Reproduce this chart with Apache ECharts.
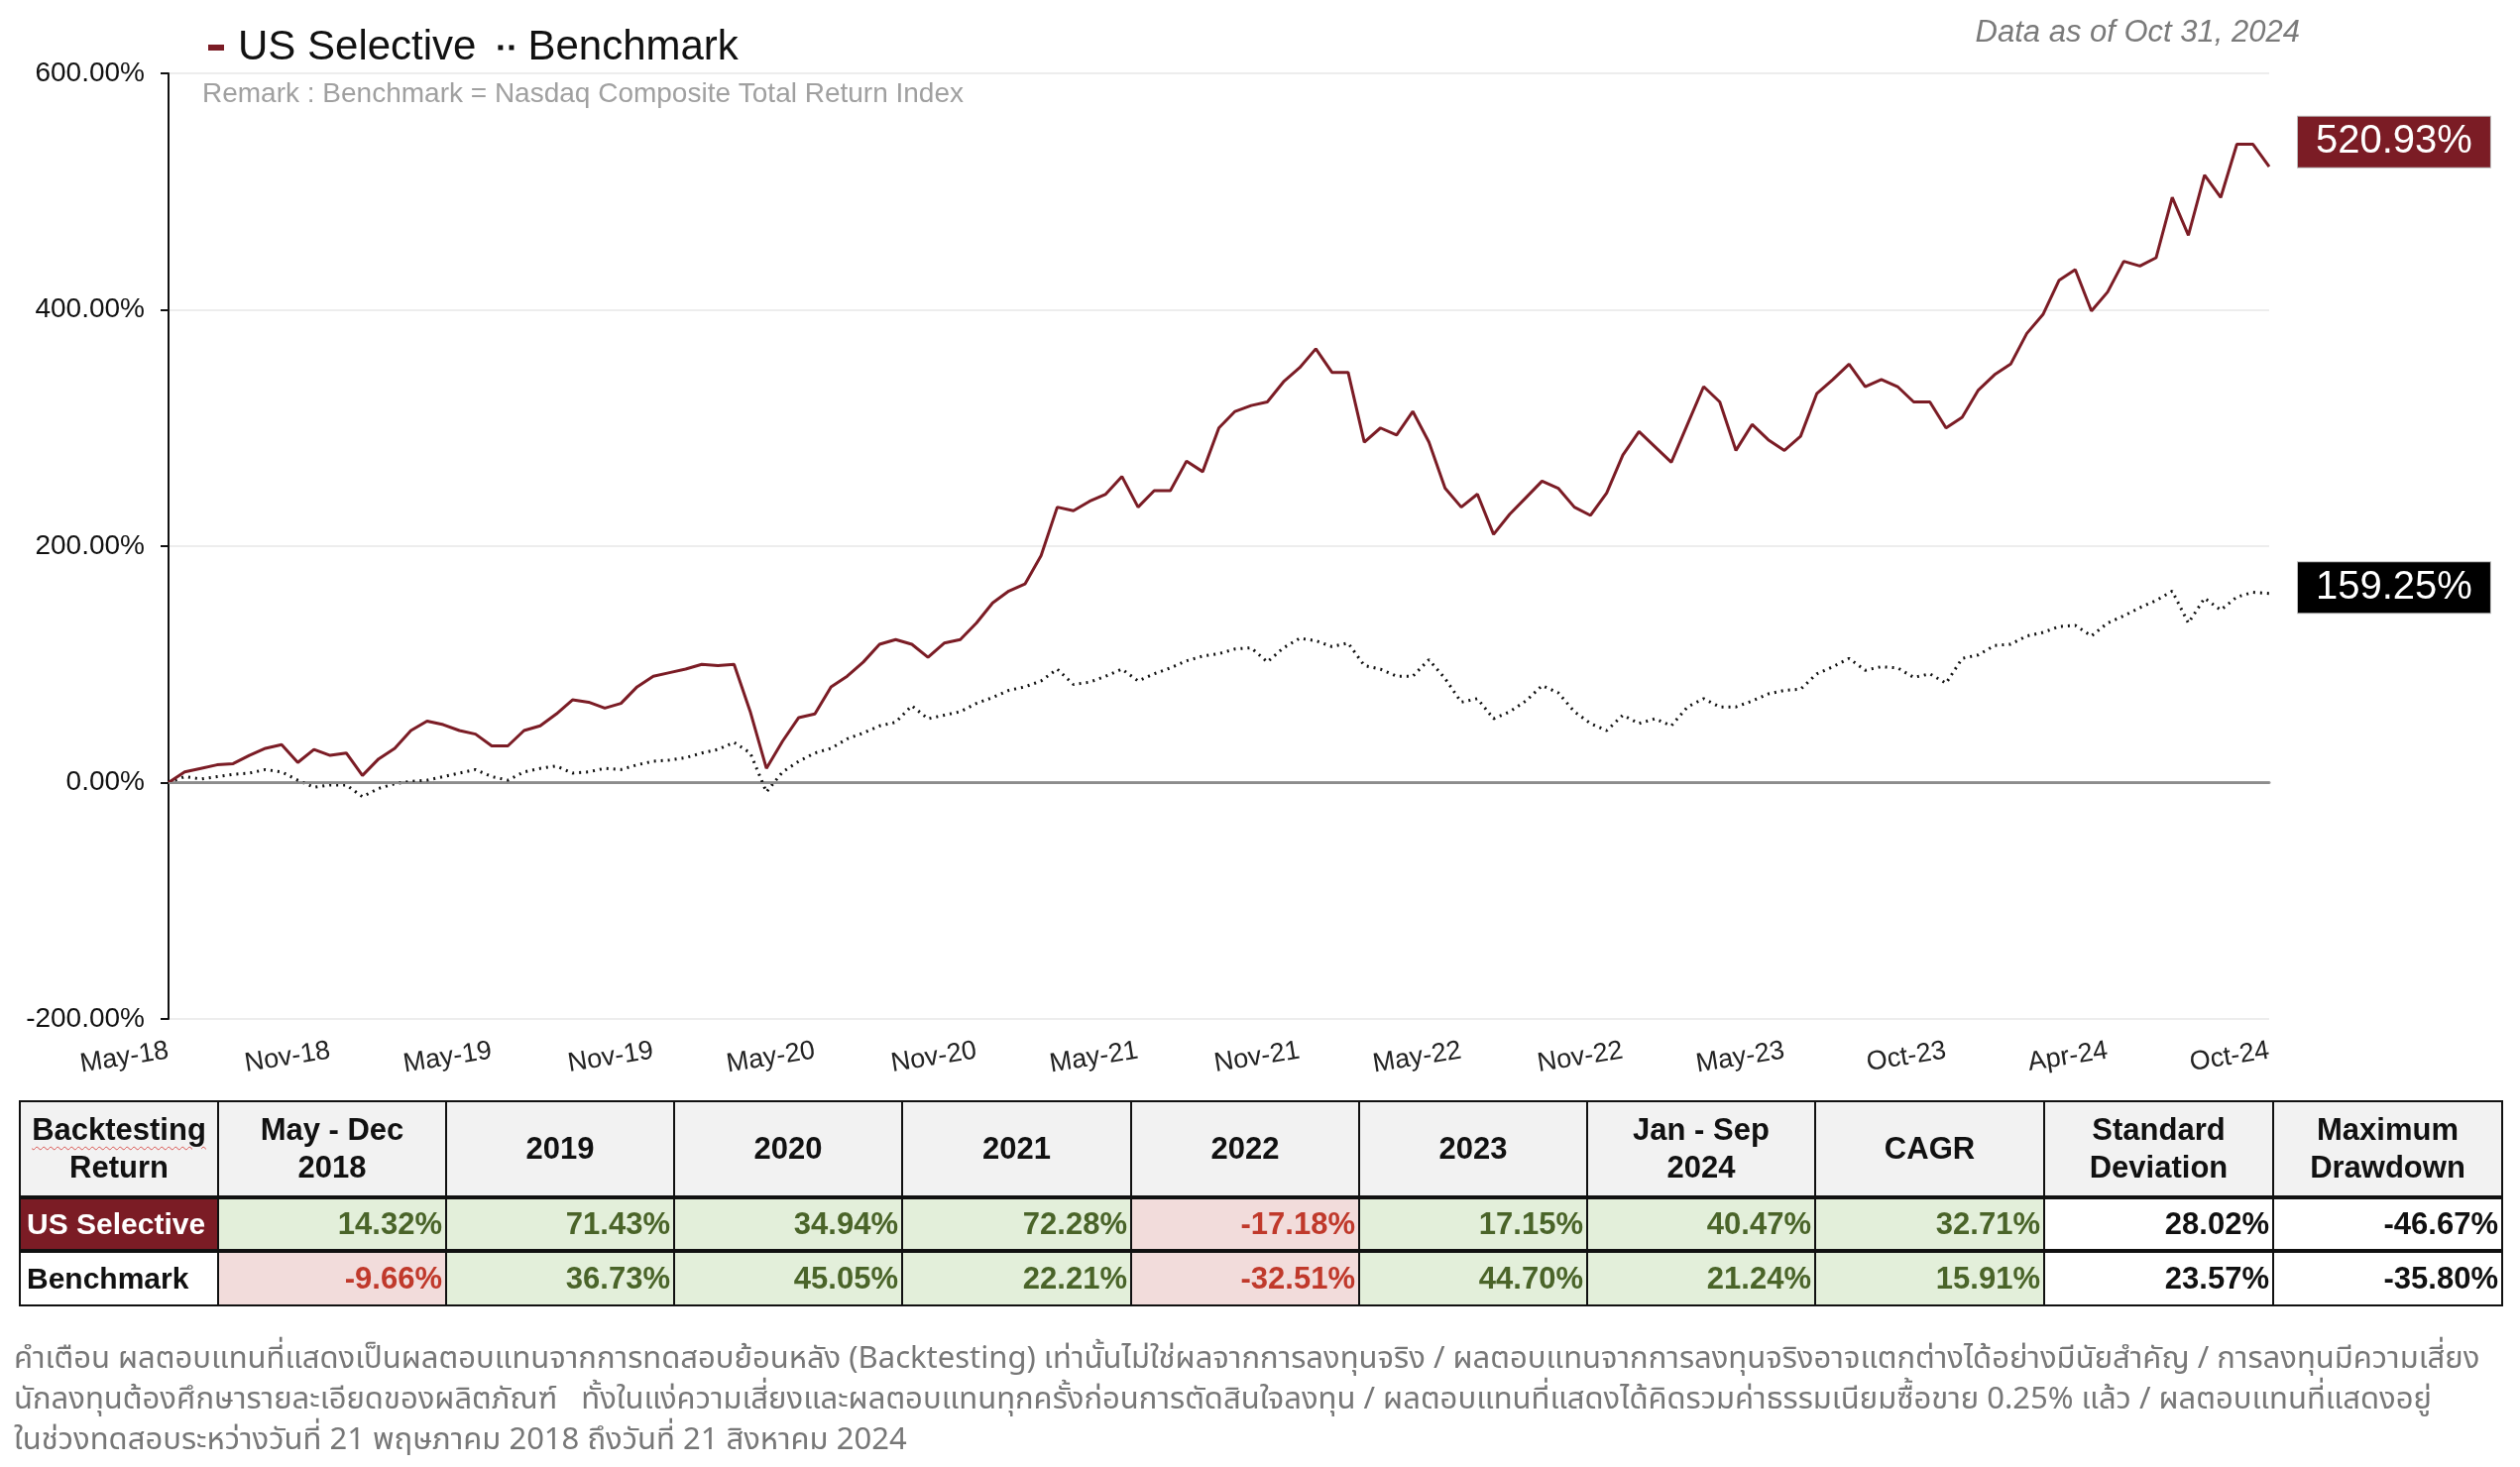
<!DOCTYPE html>
<html>
<head>
<meta charset="utf-8">
<script src="https://cdn.jsdelivr.net/npm/echarts/dist/echarts.min.js"></script>
<style>
  html, body { margin: 0; padding: 0; background: #fff; }
  body { width: 2542px; height: 1480px; position: relative; overflow: hidden; }
  #chart { position: absolute; left: 0; top: 0; width: 2542px; height: 1480px; }
  #tbl { position: absolute; left: 19px; top: 1110px; border-collapse: collapse; table-layout: fixed;
         font-family: 'Liberation Sans Narrow', 'Liberation Sans', Arial, sans-serif; font-weight: bold; font-size: 31px; }
  #tbl td { border: 2px solid #111; padding: 0 3px; overflow: hidden; white-space: nowrap; }
  #tbl tr.hdr td { background: #f2f2f2; text-align: center; line-height: 38px; height: 94px; white-space: normal; color: #111; }
  #tbl tr.r1 td { height: 50px; border-top: 4px solid #111; }
  #tbl tr.r2 td { height: 52px; border-top: 4px solid #111; }
  #tbl td.val { text-align: right; }
  #tbl td.pos { background: #e3efda; color: #4a6429; }
  #tbl td.neg { background: #f2dcdb; color: #c0392b; }
  #tbl td.plain { background: #fff; color: #111; }
  #tbl td.name1 { background: #7b1c25; color: #fff; text-align: left; padding-left: 6px; font-size: 30px; }
  #tbl td.name2 { background: #fff; color: #111; text-align: left; padding-left: 6px; font-size: 30px; }
  .wavy { text-decoration: underline wavy #d9534f; text-decoration-thickness: 1px; text-underline-offset: 6px; }
  #disc { position: absolute; left: 14px; top: 1350px; width: 2525px; color: #777; font-size: 31px; line-height: 41px;
          font-family: 'Noto Sans Thai', 'Noto Sans', 'DejaVu Sans', sans-serif; white-space: nowrap; }
</style>
</head>
<body>
<div id="chart"></div>
<table id="tbl"></table>
<div id="disc"></div>
<script>
// ---------------- data ----------------
const tickLabels = ['May-18','Nov-18','May-19','Nov-19','May-20','Nov-20','May-21','Nov-21','May-22','Nov-22','May-23','Oct-23','Apr-24','Oct-24'];

const usSelective = [
  0, 9, 12, 15, 16, 23, 29, 32, 17, 28,
  23, 25, 6, 20, 29, 44, 52, 49, 44, 41,
  31, 31, 44, 48, 58, 70, 68, 63, 67, 81,
  90, 93, 96, 100, 99, 100, 60, 12, 35, 55,
  58, 81, 90, 102, 117, 121, 117, 106, 118, 121,
  135, 152, 162, 168, 192, 233, 230, 238, 244, 259,
  233, 247, 247, 272, 263, 300, 314, 319, 322, 339,
  351, 367, 347, 347, 288, 300, 294, 314, 288, 249,
  233, 244, 210, 227, 241, 255, 249, 233, 226, 245,
  277, 297, 284, 271, 303, 335, 322, 281, 303, 290,
  281, 293, 329, 341, 354, 335, 341, 335, 322, 322,
  300, 309, 332, 345, 354, 380, 396, 425, 434, 399,
  415, 441, 437, 444, 495, 463, 514, 495, 540, 540,
  521
];

const benchmark = [
  0, 5, 3, 5, 7, 8, 11, 9, 2, -4,
  -2, -2, -12, -5, -1, 1, 2, 5, 8, 11,
  5, 2, 9, 12, 14, 8, 9, 12, 11, 15,
  18, 19, 21, 25, 28, 34, 25, -8, 9, 18,
  25, 29, 37, 42, 48, 51, 65, 54, 57, 60,
  67, 72, 78, 81, 86, 96, 83, 85, 90, 96,
  86, 92, 97, 103, 107, 109, 113, 114, 102, 114,
  122, 120, 115, 118, 99, 96, 90, 90, 104, 88,
  68, 71, 54, 60, 69, 82, 76, 60, 50, 44,
  57, 50, 54, 48, 64, 71, 64, 64, 69, 75,
  78, 79, 92, 98, 105, 95, 98, 97, 89, 92,
  84, 105, 108, 116, 117, 124, 127, 132, 133, 124,
  135, 141, 148, 154, 162, 135, 156, 146, 157, 161,
  160
];

const usLastLabel = '520.93%';
const benchLastLabel = '159.25%';

const tableHeaders = ['<span class="wavy">Backtesting</span><br>Return', 'May - Dec<br>2018', '2019', '2020', '2021', '2022', '2023', 'Jan - Sep<br>2024', 'CAGR', 'Standard<br>Deviation', 'Maximum<br>Drawdown'];
const tableRowNames = ['US Selective', 'Benchmark'];
const usRow = ['14.32%', '71.43%', '34.94%', '72.28%', '-17.18%', '17.15%', '40.47%', '32.71%', '28.02%', '-46.67%'];
const benchRow = ['-9.66%', '36.73%', '45.05%', '22.21%', '-32.51%', '44.70%', '21.24%', '15.91%', '23.57%', '-35.80%'];
const colouredColumns = 8; // return columns shaded by sign

const disclaimerLines = [
  'คำเตือน ผลตอบแทนที่แสดงเป็นผลตอบแทนจากการทดสอบย้อนหลัง (Backtesting) เท่านั้นไม่ใช่ผลจากการลงทุนจริง / ผลตอบแทนจากการลงทุนจริงอาจแตกต่างได้อย่างมีนัยสำคัญ / การลงทุนมีความเสี่ยง',
  'นักลงทุนต้องศึกษารายละเอียดของผลิตภัณฑ์ \u00a0 ทั้งในแง่ความเสี่ยงและผลตอบแทนทุกครั้งก่อนการตัดสินใจลงทุน / ผลตอบแทนที่แสดงได้คิดรวมค่าธรรมเนียมซื้อขาย 0.25% แล้ว / ผลตอบแทนที่แสดงอยู่',
  'ในช่วงทดสอบระหว่างวันที่ 21 พฤษภาคม 2018 ถึงวันที่ 21 สิงหาคม 2024'
];

// ---------------- table ----------------
const colWidths = [200, 230, 230, 230, 231, 230, 230, 230, 231, 231, 231];
(function buildTable() {
  const t = document.getElementById('tbl');
  let html = '<colgroup>' + colWidths.map(w => '<col style="width:' + w + 'px">').join('') + '</colgroup>';
  html += '<tr class="hdr">' + tableHeaders.map(h => '<td>' + h + '</td>').join('') + '</tr>';
  const rows = [usRow, benchRow];
  rows.forEach((row, ri) => {
    html += '<tr class="r' + (ri + 1) + '"><td class="' + (ri === 0 ? 'name1' : 'name2') + '">' + tableRowNames[ri] + '</td>';
    row.forEach((v, ci) => {
      let cls = 'val ';
      if (ci < colouredColumns) cls += (v.trim().startsWith('-') ? 'neg' : 'pos');
      else cls += 'plain';
      html += '<td class="' + cls + '">' + v + '</td>';
    });
    html += '</tr>';
  });
  t.innerHTML = html;
  document.getElementById('disc').innerHTML = disclaimerLines.map(l => '<div>' + l + '</div>').join('');
})();

// ---------------- chart ----------------
const categories = usSelective.map((_, i) => String(i));
const labelStep = (categories.length - 1) / (tickLabels.length - 1);

const chart = echarts.init(document.getElementById('chart'), null, { renderer: 'canvas' });
chart.setOption({
  animation: false,
  backgroundColor: '#fff',
  title: [
    { text: 'Data as of Oct 31, 2024', right: 217, top: 13,
      textStyle: { fontSize: 31, fontStyle: 'italic', fontWeight: 'normal', color: '#7a7a7a', fontFamily: 'Liberation Sans, Arial, sans-serif' } },
    { text: 'Remark : Benchmark = Nasdaq Composite Total Return Index', left: 199, top: 76,
      textStyle: { fontSize: 28, fontWeight: 'normal', color: '#a0a0a0', fontFamily: 'Liberation Sans, Arial, sans-serif' } }
  ],
  legend: {
    left: 205, top: 22, itemWidth: 16, itemHeight: 6, itemGap: 22,
    textStyle: { fontSize: 42, color: '#111', fontFamily: 'Liberation Sans, Arial, sans-serif', padding: [0, 0, 0, 9] },
    data: [
      { name: 'US Selective', icon: 'rect' },
      { name: 'Benchmark', icon: 'path://M0,0h4v4h-4zM9,0h4v4h-4z' }
    ]
  },
  grid: { left: 170, right: 253, top: 74, bottom: 452, containLabel: false },
  xAxis: {
    type: 'category', data: categories, boundaryGap: false,
    axisLine: { lineStyle: { color: '#9a9a9a', width: 3 } },
    axisTick: { show: false },
    axisLabel: {
      interval: labelStep - 1, rotate: 9, fontSize: 27, color: '#222', margin: 32,
      fontFamily: 'Liberation Sans, Arial, sans-serif',
      formatter: (v, i) => tickLabels[Math.round(i / labelStep)]
    },
    splitLine: { show: false }
  },
  yAxis: {
    type: 'value', min: -200, max: 600, interval: 200,
    axisLine: { show: true, lineStyle: { color: '#111', width: 2 } },
    axisTick: { show: true, length: 8, lineStyle: { color: '#111', width: 2 } },
    axisLabel: { formatter: v => v.toFixed(2) + '%', fontSize: 28, color: '#111', margin: 24,
                 fontFamily: 'Liberation Sans, Arial, sans-serif' },
    splitLine: { lineStyle: { color: '#ededed', width: 2 } }
  },
  series: [
    {
      name: 'US Selective', type: 'line', data: usSelective, symbol: 'none',
      lineStyle: { color: '#7b1c25', width: 3 }, itemStyle: { color: '#7b1c25' },
      endLabel: {
        show: true, formatter: () => usLastLabel, distance: 29, offset: [0, -25],
        color: '#fff', backgroundColor: '#7b1c25', borderColor: '#bbb', borderWidth: 1,
        fontSize: 40, padding: [7, 18, 4, 18], fontFamily: 'Liberation Sans Narrow, Liberation Sans, sans-serif'
      },
      z: 3
    },
    {
      name: 'Benchmark', type: 'line', data: benchmark, symbol: 'none',
      lineStyle: { color: '#111', width: 3, type: [2, 5] }, itemStyle: { color: '#111' },
      endLabel: {
        show: true, formatter: () => benchLastLabel, distance: 29, offset: [0, -6],
        color: '#fff', backgroundColor: '#000', borderColor: '#bbb', borderWidth: 1,
        fontSize: 40, padding: [7, 18, 4, 18], fontFamily: 'Liberation Sans Narrow, Liberation Sans, sans-serif'
      },
      markLine: {
        silent: true, symbol: 'none', label: { show: false },
        lineStyle: { color: '#8c8c8c', width: 2, type: 'solid' },
        data: [{ yAxis: 0 }]
      },
      z: 2
    }
  ]
});
</script>
</body>
</html>
